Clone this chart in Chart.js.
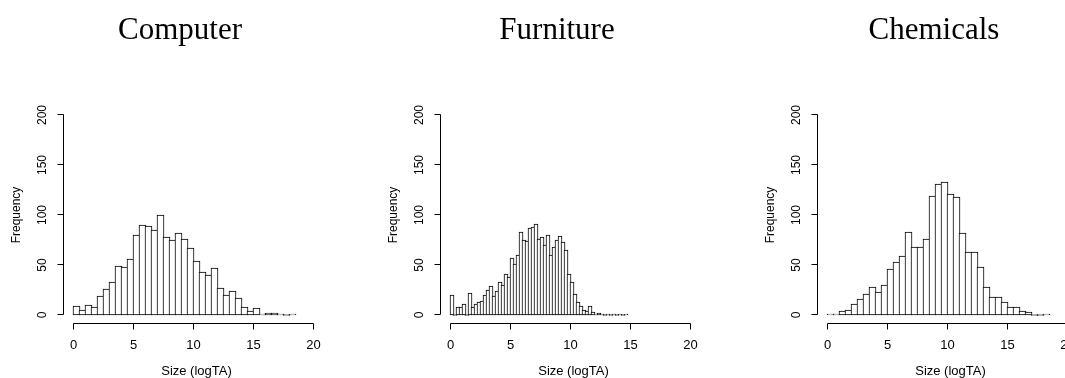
<!DOCTYPE html>
<html>
<head>
<meta charset="utf-8">
<script src="https://cdn.jsdelivr.net/npm/chart.js@4.4.0/dist/chart.umd.min.js"></script>
<style>
  html, body { margin: 0; padding: 0; background: #fff; }
  body { width: 1065px; height: 378px; overflow: hidden; position: relative; }
  .panel { position: absolute; top: 0; width: 377px; height: 378px; }
</style>
</head>
<body>
<div class="panel" style="left:0px"><canvas id="computer" width="377" height="378"></canvas></div>
<div class="panel" style="left:377px"><canvas id="furniture" width="377" height="378"></canvas></div>
<div class="panel" style="left:754px"><canvas id="chemicals" width="377" height="378"></canvas></div>
<script>
// bin edges (logTA) and counts
const computerBreaks = [0, 0.5, 1, 1.5, 2, 2.5, 3, 3.5, 4, 4.5, 5, 5.5, 6, 6.5, 7, 7.5, 8, 8.5, 9, 9.5,
  10, 10.5, 11, 11.5, 12, 12.5, 13, 13.5, 14, 14.5, 15, 15.5, 16, 16.5, 17, 17.5, 18, 18.5];
const computerCounts = [9, 5, 10, 8, 19, 26, 33, 49, 48, 56, 80, 90, 89, 85, 100, 78, 75, 82, 76, 67,
  54, 43, 40, 47, 27, 20, 24, 17, 8, 4, 7, 1, 2, 2, 1, 0, 1];

const furnitureBreaks = [0, 0.25, 0.5, 0.75, 1, 1.25, 1.5, 1.75, 2, 2.25, 2.5, 2.75, 3, 3.25, 3.5, 3.75,
  4, 4.25, 4.5, 4.75, 5, 5.25, 5.5, 5.75, 6, 6.25, 6.5, 6.75, 7, 7.25, 7.5, 7.75, 8, 8.25, 8.5, 8.75,
  9, 9.25, 9.5, 9.75, 10, 10.25, 10.5, 10.75, 11, 11.25, 11.5, 11.75, 12, 12.25, 12.5, 12.75,
  13, 13.25, 13.5, 13.75, 14, 14.25, 14.5, 14.75];
const furnitureCounts = [20, 0, 8, 8, 11, 0, 22, 8, 11, 13, 14, 20, 25, 29, 19, 24, 33, 30, 41, 38,
  57, 51, 60, 83, 75, 74, 87, 88, 91, 76, 78, 70, 80, 60, 68, 75, 79, 73, 65, 41,
  33, 21, 13, 9, 5, 4, 9, 3, 1, 2, 1, 0, 1, 0, 1, 0, 1, 0, 1];

const chemicalsBreaks = [0, 0.5, 1, 1.5, 2, 2.5, 3, 3.5, 4, 4.5, 5, 5.5, 6, 6.5, 7, 7.5, 8, 8.5, 9, 9.5,
  10, 10.5, 11, 11.5, 12, 12.5, 13, 13.5, 14, 14.5, 15, 15.5, 16, 16.5, 17, 17.5, 18, 18.5];
const chemicalsCounts = [1, 1, 4, 5, 11, 16, 21, 28, 23, 30, 46, 53, 59, 83, 68, 68, 76, 119, 131, 133,
  121, 118, 82, 63, 63, 48, 28, 18, 18, 13, 8, 8, 4, 3, 0, 0, 1];

const xTicks = [0, 5, 10, 15, 20];
const yTicks = [0, 50, 100, 150, 200];
const xLabel = 'Size (logTA)';
const yLabel = 'Frequency';

// R-like axes: lines only span the tick range, rotated y labels
const rStyleAxes = {
  id: 'rStyleAxes',
  afterDraw(chart, args, opts) {
    const { ctx, chartArea } = chart;
    const xs = chart.scales.x, ys = chart.scales.y;
    ctx.save();
    ctx.strokeStyle = '#000';
    ctx.fillStyle = '#000';
    ctx.lineWidth = 1;

    // title
    ctx.font = '31px "Liberation Serif", serif';
    ctx.textAlign = 'center';
    ctx.textBaseline = 'alphabetic';
    ctx.fillText(opts.title, 180, 39);

    // x axis
    const axisY = Math.round(chartArea.bottom) + 0.5;
    ctx.beginPath();
    ctx.moveTo(xs.getPixelForValue(xTicks[0]), axisY);
    ctx.lineTo(xs.getPixelForValue(xTicks[xTicks.length - 1]), axisY);
    xTicks.forEach(v => {
      const px = xs.getPixelForValue(v);
      ctx.moveTo(px, axisY);
      ctx.lineTo(px, axisY + 6);
    });
    ctx.stroke();
    ctx.font = '13px "Liberation Sans", Arial, sans-serif';
    ctx.textBaseline = 'middle';
    xTicks.forEach(v => ctx.fillText(String(v), xs.getPixelForValue(v), 345));
    ctx.textBaseline = 'alphabetic';
    ctx.fillText(xLabel, (chartArea.left + chartArea.right) / 2 + 3, 375);

    // y axis
    ctx.font = '12px "Liberation Sans", Arial, sans-serif';
    const axisX = Math.floor(chartArea.left) + 0.5;
    ctx.beginPath();
    ctx.moveTo(axisX, Math.round(ys.getPixelForValue(yTicks[0])) - 0.5);
    ctx.lineTo(axisX, Math.round(ys.getPixelForValue(yTicks[yTicks.length - 1])) - 0.5);
    yTicks.forEach(v => {
      const py = Math.round(ys.getPixelForValue(v)) - 0.5;
      ctx.moveTo(axisX, py);
      ctx.lineTo(axisX - 6, py);
    });
    ctx.stroke();
    yTicks.forEach(v => {
      ctx.save();
      ctx.translate(43, ys.getPixelForValue(v));
      ctx.rotate(-Math.PI / 2);
      ctx.textBaseline = 'middle';
      ctx.fillText(String(v), 0, 0);
      ctx.restore();
    });
    ctx.save();
    ctx.translate(17, (ys.getPixelForValue(yTicks[0]) + ys.getPixelForValue(yTicks[yTicks.length - 1])) / 2);
    ctx.rotate(-Math.PI / 2);
    ctx.textBaseline = 'middle';
    ctx.fillText(yLabel, 0, 0);
    ctx.restore();

    ctx.restore();
  }
};

function drawHistogram(id, title, breaks, counts, thickness) {
  const points = counts.map((c, i) => ({ x: (breaks[i] + breaks[i + 1]) / 2, y: c }));
  return new Chart(document.getElementById(id).getContext('2d'), {
    type: 'bar',
    data: {
      datasets: [{
        data: points,
        backgroundColor: '#ffffff',
        borderColor: '#000000',
        borderWidth: 1,
        borderSkipped: false,
        barThickness: thickness,
        minBarLength: 1,
      }],
    },
    options: {
      responsive: false,
      animation: false,
      events: [],
      layout: { padding: { left: 63.9, right: 53.9, top: 107, bottom: 55 } },
      scales: {
        x: { type: 'linear', min: -0.8, max: 20.8, offset: false, display: false },
        y: { type: 'linear', min: -8, max: 208, display: false },
      },
      plugins: {
        legend: { display: false },
        tooltip: { enabled: false },
        title: { display: false },
        rStyleAxes: { title },
      },
    },
    plugins: [rStyleAxes],
  });
}

drawHistogram('computer', 'Computer', computerBreaks, computerCounts, 7);
drawHistogram('furniture', 'Furniture', furnitureBreaks, furnitureCounts, 4);
drawHistogram('chemicals', 'Chemicals', chemicalsBreaks, chemicalsCounts, 7);
</script>
</body>
</html>
